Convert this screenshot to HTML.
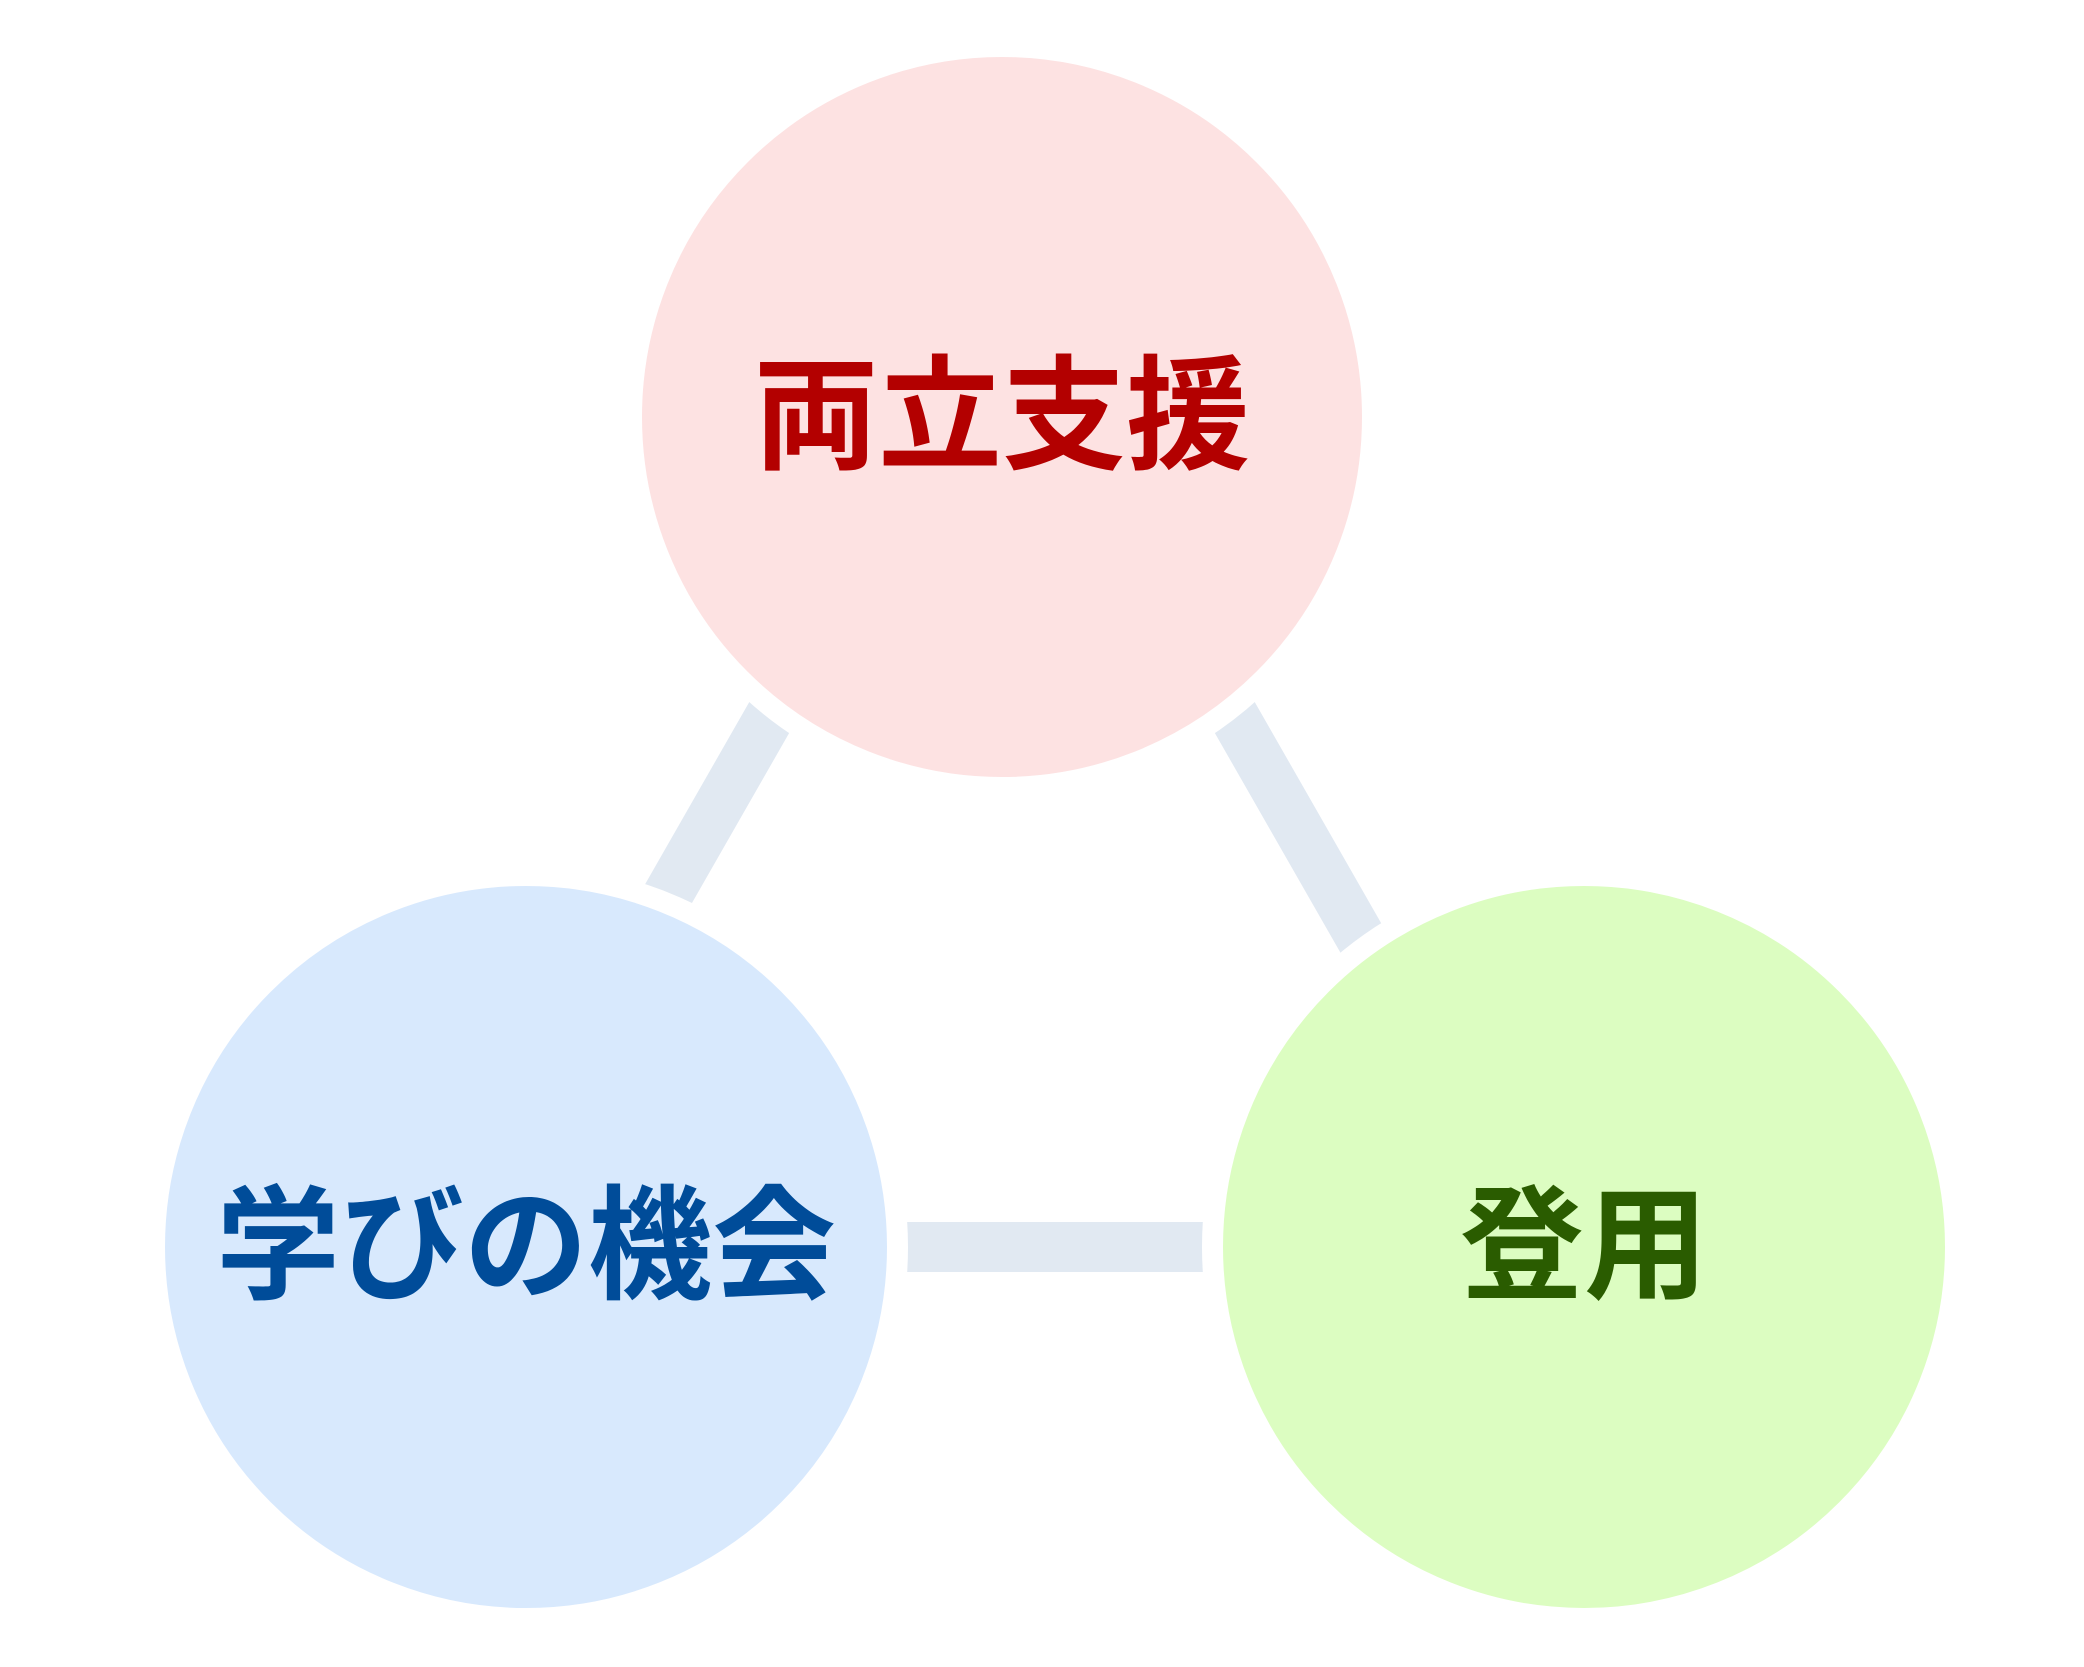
<!DOCTYPE html>
<html><head><meta charset="utf-8"><style>
html,body{margin:0;padding:0;background:#fff;}
svg{display:block}
text{font-family:"Liberation Sans","Noto Sans CJK JP",sans-serif;font-weight:bold;}
</style></head><body>
<svg width="2084" height="1667" viewBox="0 0 2084 1667" xmlns="http://www.w3.org/2000/svg">
<rect width="2084" height="1667" fill="#fff"/>
<g stroke="#e1e9f2" stroke-width="50">
<line x1="865" y1="550" x2="622" y2="975"/>
<line x1="1139" y1="550" x2="1382" y2="975"/>
<line x1="700" y1="1247" x2="1400" y2="1247"/>
</g>
<g stroke="#fff" stroke-width="21">
<circle cx="1002" cy="417" r="370.5" fill="#fde2e2"/>
<circle cx="526" cy="1247" r="371.5" fill="#d8e9fd"/>
<circle cx="1584" cy="1247" r="371.5" fill="#dcfdc1"/>
</g>
<text x="1002" y="417" font-size="124" fill="#b30000" text-anchor="middle" dominant-baseline="central">両立支援</text>
<text x="526" y="1247" font-size="124" fill="#004c99" text-anchor="middle" dominant-baseline="central">学びの機会</text>
<text x="1584" y="1247" font-size="124" fill="#2a5c00" text-anchor="middle" dominant-baseline="central">登用</text>
</svg>
</body></html>
